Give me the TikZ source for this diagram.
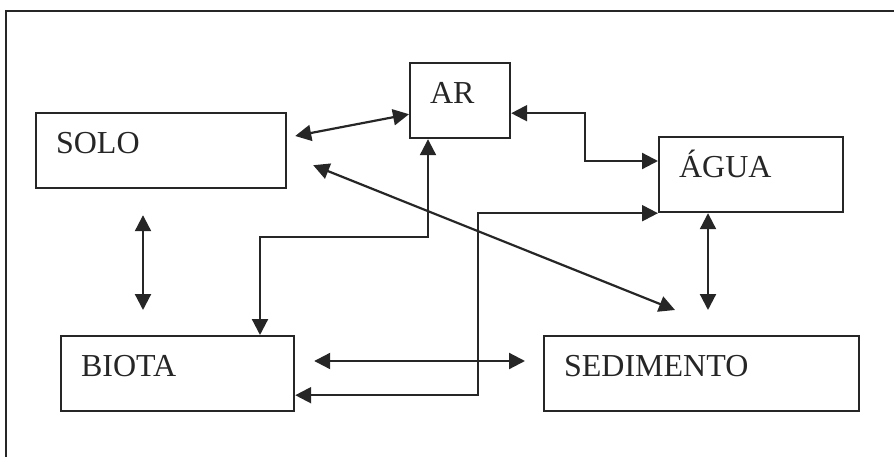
\documentclass[tikz,border=0pt]{standalone}
\usepackage{fontspec}
\setmainfont{Liberation Serif}
\usepackage{tikz}
\usetikzlibrary{arrows.meta,calc}
\definecolor{ink}{HTML}{262626}

\begin{document}
\begin{tikzpicture}[
  x=1pt, y=-1pt,
  font=\fontsize{32}{36}\selectfont,
  >={Triangle[length=16pt,width=16pt]},
  box/.style={draw=ink, text=ink, line width=2.2pt, anchor=north west, align=left,
    inner xsep=20pt, inner ysep=0pt, text height=40pt, text depth=35pt},
  arr/.style={<->, draw=ink, line width=2.2pt},
  frame/.style={draw=ink, line width=2pt}
]
\useasboundingbox (0,0) rectangle (894,457);
\draw[frame] (6,457) -- (6,11) -- (894,11);

% ---------------- compartments ----------------
\node[box, text width=210pt] (solo) at (35,112) {SOLO};
\node[box, text width=60pt] (ar) at (409,62) {AR};
\node[box, text width=144pt] (agua) at (658,136) {ÁGUA};
\node[box, text width=193pt] (biota) at (60,335) {BIOTA};
\node[box, text width=275pt] (sed) at (543,335) {SEDIMENTO};

% ---------------- exchanges ----------------
\draw[arr] ($(solo.north east)+(8,24)$) -- ($(ar.south west)+(0,-25)$);
\draw[arr] ($(ar.south east)+(0,-26)$) -| ($($(ar.south east)+(0,-26)$)!.5!($(agua.north west)+(0,25)$)$) |- ($(agua.north west)+(0,25)$);
\draw[arr] ($(ar.south west)+(19,0)$) -- ++(0,98) -| ($(biota.north west)+(200,0)$);
\draw[arr] ($(solo.south east)+(26,-24)$) -- ($(sed.north west)+(132,-25)$);
\draw[arr] ($(biota.south east)+(0,-17)$) -- ++(183,0) |- (agua.south west);
\draw[arr] ($(biota.north east)+(19,26)$) -- ($(sed.north west)+(-18,26)$);
\draw[arr] ($(solo.south west)+(108,26)$) -- ($(biota.north west)+(83,-25)$);
\draw[arr] ($(agua.south west)+(50,0)$) -- ($(sed.north west)+(165,-25)$);
\end{tikzpicture}
\end{document}
